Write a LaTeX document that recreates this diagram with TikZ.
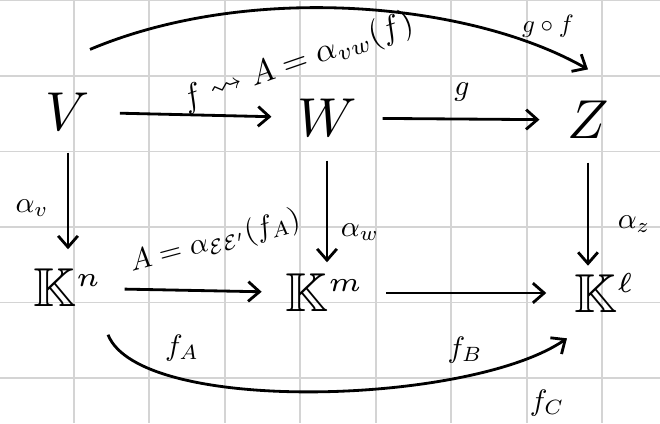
\documentclass[tikz,border=0pt]{standalone}
\usepackage{amssymb}
\usetikzlibrary{arrows.meta}
\begin{document}
\begin{tikzpicture}[x=0.025cm,y=-0.025cm,
    obj/.style={scale=3.9, inner sep=0.5pt},
    lbl/.style={scale=2.1, inner sep=0.5pt},
    arr/.style={line width=2pt, -{Straight Barb[length=8pt,width=14pt,line width=2pt]}},
    gridline/.style={draw=black!17, line width=1.3pt}]
    \useasboundingbox (0,0) rectangle (660,423);
    % squared paper
    \fill[white] (0,0) rectangle (660,423);
    \foreach \gx in {73.7,149.2,...,640} \draw[gridline] (\gx,0) -- (\gx,423);
    \foreach \gy in {0.5,76,...,423} \draw[gridline] (0,\gy) -- (660,\gy);
    % top row
    \node[obj] (V) at (68,112) {$V$};
    \node[obj] (W) at (327,118) {$W$};
    \node[obj] (Z) at (588,120) {$Z$};
    % bottom row
    \node[obj] (Kn) at (68,288) {$\mathbb{K}^{\scriptscriptstyle n}$};
    \node[obj] (Km) at (325,293) {$\mathbb{K}^{\scriptscriptstyle m}$};
    \node[obj] (Kl) at (605,293) {$\mathbb{K}^{\scriptscriptstyle \ell}$};
    % horizontal maps
    \draw[arr, shorten <=0.65cm, shorten >=0.55cm] (V) -- (W);
    \draw[arr, shorten <=0.55cm, shorten >=0.6cm] (W) -- (Z);
    \draw[arr, shorten <=0.45cm, shorten >=0.5cm] (Kn) -- (Km);
    \draw[arr, shorten <=0.45cm, shorten >=0.6cm] (Km) -- (Kl);
    % vertical maps
    \draw[arr, shorten <=0.45cm, shorten >=0.4cm] (V.south) -- (Kn.north -| V.south);
    \draw[arr, shorten <=0.5cm, shorten >=0.2cm] (W.south) -- (Km.north -| W.south);
    \draw[arr, shorten <=0.5cm, shorten >=0.1cm] (Z.south) -- (Kl.north -| Z.south);
    % composites
    \draw[arr] ([xshift=0.55cm,yshift=1cm]V.north) .. controls (250,-18) and (470,2) .. ([yshift=0.7cm]Z.north);
    \draw[arr] ([xshift=1cm,yshift=-0.6cm]Kn.south) .. controls (140,415) and (470,405) .. ([xshift=-0.95cm,yshift=-0.55cm]Kl.south);
    % labels
    \node[lbl, scale=1.12, rotate=19] (top) at (298,62) {$f\rightsquigarrow A=\alpha_{vw}(f)$};
    \node[lbl, scale=0.85] (gf) at (548,26) {$g\circ f$};
    \node[lbl] (g) at (462,92) {$g$};
    \node[lbl] (av) at (32,208) {$\alpha_v$};
    \node[lbl] (aw) at (360,232) {$\alpha_w$};
    \node[lbl] (az) at (634,224) {$\alpha_z$};
    \node[lbl, rotate=15] (bot) at (215,242) {$A=\alpha_{\mathcal{E}\mathcal{E}'}(f_A)$};
    \node[lbl] (fA) at (182,348) {$f_A$};
    \node[lbl] (fB) at (465,350) {$f_B$};
    \node[lbl] (fC) at (547,403) {$f_C$};
\end{tikzpicture}
\end{document}
